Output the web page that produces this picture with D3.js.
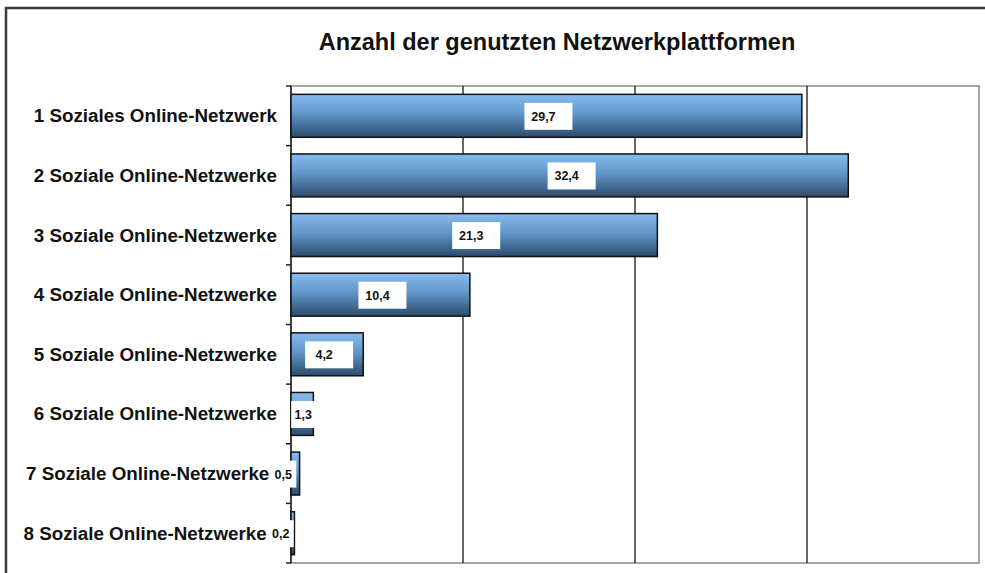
<!DOCTYPE html>
<html>
<head>
<meta charset="utf-8">
<script src="https://cdn.jsdelivr.net/npm/d3@7"></script>
<style>
  body { margin: 0; background: #fff; }
  text { font-family: "Liberation Sans", Arial, sans-serif; }
</style>
</head>
<body>
<script>
var w = 985, h = 573,
    plotL = 291, plotR = 979, plotT = 86, plotB = 563;

var categories = ["1 Soziales Online-Netzwerk", "2 Soziale Online-Netzwerke", "3 Soziale Online-Netzwerke",
    "4 Soziale Online-Netzwerke", "5 Soziale Online-Netzwerke", "6 Soziale Online-Netzwerke",
    "7 Soziale Online-Netzwerke", "8 Soziale Online-Netzwerke"];
var values = [29.7, 32.4, 21.3, 10.4, 4.2, 1.3, 0.5, 0.2];
var gridTicks = [10, 20, 30];

var data = categories.map(function (c, i) { return { cat: c, v: values[i] } });

var svg = d3.select("body").append("svg")
    .attr("width", w)
    .attr("height", h);

// bar gradient
var grad = svg.append("defs").append("linearGradient")
    .attr("id", "barGrad").attr("x1", 0).attr("y1", 0).attr("x2", 0).attr("y2", 1);
grad.append("stop").attr("offset", "0%").attr("stop-color", "#88bcf0");
grad.append("stop").attr("offset", "45%").attr("stop-color", "#6196c9");
grad.append("stop").attr("offset", "100%").attr("stop-color", "#2c4b6c");

// outer frame
svg.append("rect")
    .attr("x", 6).attr("y", 8).attr("width", w + 10).attr("height", h + 10)
    .attr("fill", "#fff").attr("stroke", "#3a3a3a").attr("stroke-width", 2.5);

svg.append("text")
    .attr("x", 557).attr("y", 50)
    .attr("text-anchor", "middle")
    .attr("font-size", 23.5).attr("font-weight", "bold")
    .attr("fill", "#111")
    .text("Anzahl der genutzten Netzwerkplattformen");

var x = d3.scaleLinear().domain([0, 40]).range([plotL, plotR]);
var y = d3.scaleBand().domain(categories).range([plotT, plotB]).paddingInner(0.28).paddingOuter(0.14);

// plot frame
svg.append("rect")
    .attr("x", plotL).attr("y", plotT).attr("width", plotR - plotL).attr("height", plotB - plotT)
    .attr("fill", "none").attr("stroke", "#888").attr("stroke-width", 1.5);

// gridlines
svg.selectAll(".grid").data(gridTicks).enter().append("line")
    .attr("class", "grid")
    .attr("x1", function (d) { return x(d) }).attr("x2", function (d) { return x(d) })
    .attr("y1", plotT).attr("y2", plotB)
    .attr("stroke", "#333").attr("stroke-width", 1.5);

// y axis with ticks at category boundaries
var step = y.step();
svg.append("line")
    .attr("x1", plotL).attr("x2", plotL).attr("y1", plotT).attr("y2", plotB)
    .attr("stroke", "#222").attr("stroke-width", 1.5);
svg.selectAll(".ytick").data(d3.range(categories.length + 1)).enter().append("line")
    .attr("class", "ytick")
    .attr("x1", plotL - 5).attr("x2", plotL)
    .attr("y1", function (d) { return plotT + d * step }).attr("y2", function (d) { return plotT + d * step })
    .attr("stroke", "#222").attr("stroke-width", 1.5);

// value label placement (tiny bars get their label pushed left, like excel does)
function labelX(d) { return x(d.v / 2) - (d.v < 1 ? 12 : (d.v < 3 ? -1 : 3)) }

// category labels
svg.selectAll(".cat").data(data).enter().append("text")
    .attr("class", "cat")
    .attr("x", function (d) { return Math.min(277, labelX(d) - 14) })
    .attr("y", function (d) { return y(d.cat) + y.bandwidth() / 2 + 6.5 })
    .attr("text-anchor", "end")
    .attr("font-size", 18.8).attr("font-weight", "bold")
    .attr("fill", "#111")
    .text(function (d) { return d.cat });

// bars
svg.selectAll(".bar").data(data).enter().append("rect")
    .attr("class", "bar")
    .attr("x", x(0))
    .attr("y", function (d) { return y(d.cat) })
    .attr("width", function (d) { return x(d.v) - x(0) })
    .attr("height", y.bandwidth())
    .attr("fill", "url(#barGrad)")
    .attr("stroke", "#111").attr("stroke-width", 1.5);

// value labels
var fmt = function (v) { return d3.format(".1f")(v).replace(".", ",") };
var lab = svg.selectAll(".lab").data(data).enter().append("g")
    .attr("class", "lab")
    .attr("transform", function (d) {
        return "translate(" + labelX(d) + "," + (y(d.cat) + y.bandwidth() / 2) + ")"
    });
lab.append("rect")
    .attr("x", function (d) { return d.v < 3 ? -12 : -19 })
    .attr("width", function (d) { return d.v < 3 ? 25 : 48 })
    .attr("y", -13).attr("height", 27)
    .attr("fill", "#fff");
lab.append("text")
    .attr("text-anchor", "middle")
    .attr("y", 5)
    .attr("font-size", 12.5).attr("font-weight", "bold")
    .attr("fill", "#111")
    .text(function (d) { return fmt(d.v) });
</script>
</body>
</html>
